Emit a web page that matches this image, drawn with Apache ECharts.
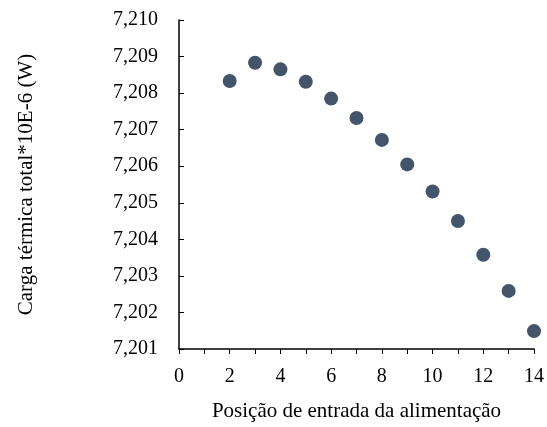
<!DOCTYPE html>
<html><head><meta charset="utf-8">
<script src="https://cdn.jsdelivr.net/npm/echarts@6/dist/echarts.min.js"></script>
<style>html,body{margin:0;background:#fff}#c{width:547px;height:427px}</style>
</head><body><div id="c"></div>
<script>
//数据
var posicao = [2, 3, 4, 5, 6, 7, 8, 9, 10, 11, 12, 13, 14];
var carga = [7.20833, 7.20883, 7.20865, 7.20831, 7.20785, 7.20732, 7.20672, 7.20605, 7.20531, 7.20450, 7.20358, 7.20259, 7.20149];

var pts = [];
for (var i = 0; i < posicao.length; i++) pts.push([posicao[i], carga[i]]);

var myChart = echarts.init(document.getElementById('c'));
var font = 'Liberation Serif';
var option = {
	animation: false,
	grid: {left: 179, right: 11, top: 20, bottom: 77},
	xAxis: {
		type: 'value', min: 0, max: 14, interval: 2,
		name: 'Posição de entrada da alimentação', nameLocation: 'middle', nameGap: 52,
		nameTextStyle: {fontFamily: font, fontSize: 21, color: '#000'},
		axisLine: {lineStyle: {color: '#000', width: 1.5}},
		axisTick: {show: true, inside: false, length: 5, lineStyle: {color: '#000'}},
		minorTick: {show: true, splitNumber: 2, length: 5, lineStyle: {color: '#000'}},
		axisLabel: {fontFamily: font, fontSize: 20, color: '#000', margin: 18},
		splitLine: {show: false}
	},
	yAxis: {
		type: 'value', min: 7.201, max: 7.210, interval: 0.001,
		name: 'Carga térmica total*10E-6 (W)', nameLocation: 'middle', nameGap: 142,
		nameTextStyle: {fontFamily: font, fontSize: 21, color: '#000'},
		axisLine: {show: true, lineStyle: {color: '#000', width: 1.5}},
		axisTick: {show: true, inside: true, length: 5, lineStyle: {color: '#000'}},
		axisLabel: {fontFamily: font, fontSize: 20, color: '#000', margin: 21,
			formatter: function (v) { return v.toFixed(3).replace('.', ','); }},
		splitLine: {show: false}
	},
	series: [{
		type: 'scatter', data: pts, symbolSize: 14,
		itemStyle: {color: '#44546a', opacity: 1}
	}]
};
myChart.setOption(option);
</script></body></html>
